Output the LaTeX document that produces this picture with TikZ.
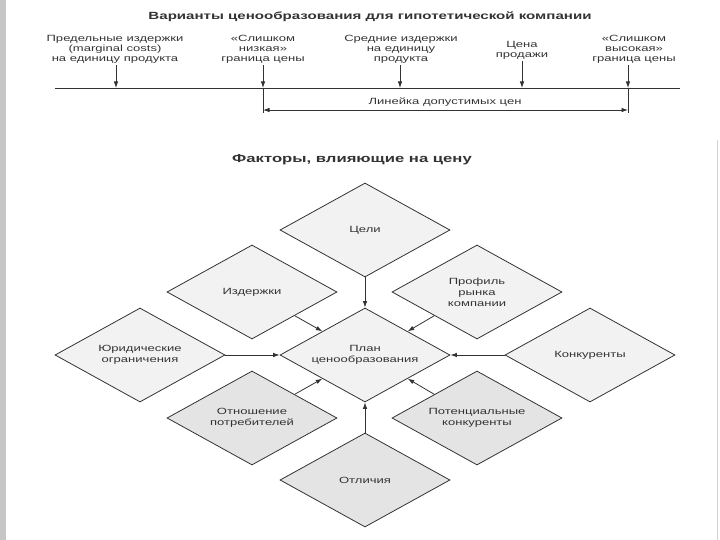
\documentclass[tikz,border=0pt]{standalone}
\usepackage{fontspec}
\setmainfont{Liberation Sans}[FakeStretch=1.45]
\usetikzlibrary{arrows.meta,positioning,shapes.geometric}
\definecolor{inkgray}{HTML}{333333}
\definecolor{lightfill}{HTML}{F2F2F2}
\definecolor{darkfill}{HTML}{E4E4E4}

\begin{document}
\begin{tikzpicture}[
    x=1pt, y=-1pt,
    every node/.style={text=inkgray, font=\fontsize{9}{10}\selectfont},
    lbl/.style={align=center, inner xsep=0pt, inner ysep=2pt},
    heading/.style={font=\bfseries\fontsize{10.4}{11}\selectfont},
    factor/.style={diamond, draw=inkgray, line width=0.8pt, fill=lightfill,
                   minimum width=170pt, minimum height=94pt, aspect=1.8,
                   inner sep=0pt, align=center, font=\fontsize{9}{11}\selectfont},
    line/.style={draw=inkgray, line width=0.8pt},
    arrow/.style={-{Latex[length=6.5pt,width=4.5pt]}, line}
]
\useasboundingbox (0,0) rectangle (720,540);
\fill[gray!45] (0,0) rectangle (6,540);
\draw[gray!35, line width=0.6pt] (717,140) -- (717,540);

% price ruler
\node[heading] (title1) at (370,17) {Варианты ценообразования для гипотетической компании};
\node[lbl] (marg) at (115,49) {Предельные издержки\\(marginal costs)\\на единицу продукта};
\node[lbl] (low)  at (263,49) {«Слишком\\низкая»\\граница цены};
\node[lbl] (avg)  at (401,49) {Средние издержки\\на единицу\\продукта};
\node[lbl] (sale) at (522,50) {Цена\\продажи};
\node[lbl] (high) at (634,49) {«Слишком\\высокая»\\граница цены};

\coordinate (axL) at (55,88);
\coordinate (axR) at (680,88);
\coordinate (tm) at (116,88);
\coordinate (tl) at (263,88);
\coordinate (ta) at (400,88);
\coordinate (ts) at (522,88);
\coordinate (th) at (628,88);
\coordinate (tlb) at (263,113);
\coordinate (thb) at (628,113);
\coordinate (rl) at (263,110);
\coordinate (rr) at (628,110);

\draw[line] (axL) -- (axR);
\foreach \n/\t in {marg/tm, low/tl, avg/ta, sale/ts, high/th}
    \draw[arrow] (\n.south -| \t) -- (\t);
\draw[line] (tl) -- (tlb);
\draw[line] (th) -- (thb);
\draw[arrow, {Latex[length=6.5pt,width=4.5pt]}-{Latex[length=6.5pt,width=4.5pt]}] (rl) -- (rr);
\node (range) at (445,102) {Линейка допустимых цен};

% factors
\node[heading, font=\bfseries\fontsize{11.5}{12}\selectfont] (title2) at (352,160) {Факторы, влияющие на цену};
\node[factor] (plan)    at (365,355) {План\\ценообразования};
\node[factor] (goals)   at (365,230) {Цели};
\node[factor] (costs)   at (252,292) {Издержки};
\node[factor] (profile) at (477,292) {Профиль\\рынка\\компании};
\node[factor] (legal)   at (140,355) {Юридические\\ограничения};
\node[factor] (rivals)  at (590,355) {Конкуренты};
\node[factor, fill=darkfill] (buyers)    at (252,418) {Отношение\\потребителей};
\node[factor, fill=darkfill] (newrivals) at (477,418) {Потенциальные\\конкуренты};
\node[factor, fill=darkfill] (diff)      at (365,480) {Отличия};

\foreach \a/\b in {goals.south/plan.north, legal.east/plan.west,
                   rivals.west/plan.east, diff.north/plan.south,
                   costs.south east/plan.north west, profile.south west/plan.north east,
                   buyers.north east/plan.south west, newrivals.north west/plan.south east}
    \draw[arrow] (\a) -- (\b);
\end{tikzpicture}
\end{document}
